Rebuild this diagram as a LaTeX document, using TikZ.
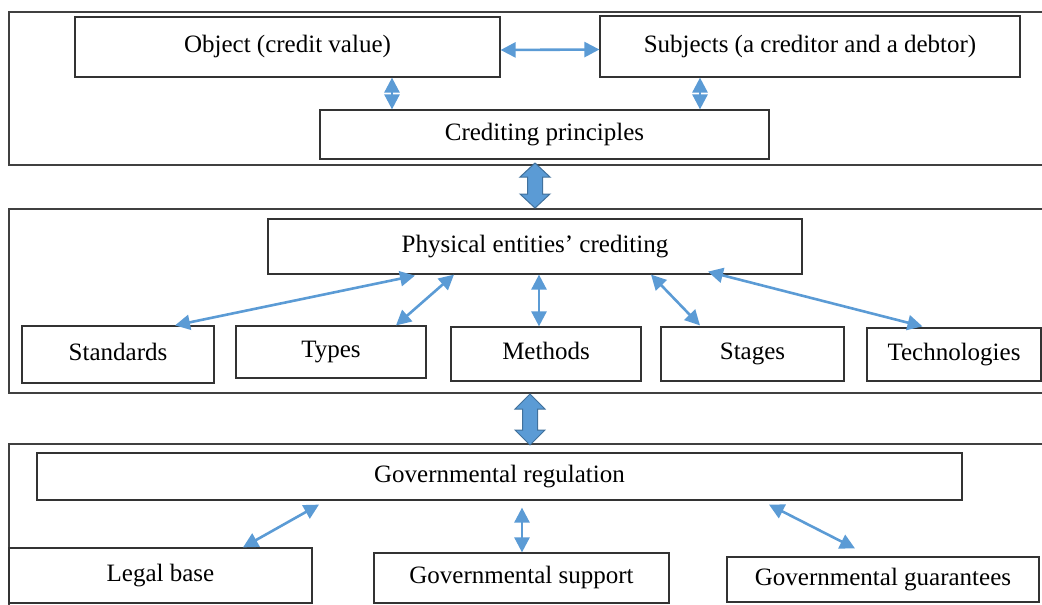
\documentclass[tikz,border=0pt]{standalone}
\usepackage{fontspec}
\setmainfont{Liberation Serif}
\usetikzlibrary{arrows.meta,calc}
\definecolor{arrblue}{HTML}{5B9BD5}
\definecolor{arredge}{HTML}{41719C}
\begin{document}
\begin{tikzpicture}[x=1pt,y=-1pt,
  box/.style={draw=black!80, line width=1.2pt, rectangle, inner sep=0pt, fill=white,
    font=\fontsize{25}{29}\selectfont, text height=17pt, text depth=5.5pt},
  frame/.style={draw=black!75, line width=1.2pt},
  link/.style={draw=arrblue, line width=2.6pt,
    {Triangle[length=15pt,width=15pt]}-{Triangle[length=15pt,width=15pt]}},
  blockarrow/.style={fill=arrblue, draw=arredge, line width=1pt, line join=miter}
]
\useasboundingbox (0,0) rectangle (1042,605);

% frames
\draw[frame] (1042,12) -- (9,12) -- (9,165) -- (1042,165);
\draw[frame] (1042,209) -- (9,209) -- (9,393) -- (1042,393);
\draw[frame] (1042,444) -- (9,444) -- (9,605);

% top level
\node[box, minimum width=425pt, minimum height=60pt] (obj) at (287.5,47) {Object (credit value)};
\node[box, minimum width=420pt, minimum height=61pt] (subj) at (810,46.5) {Subjects (a creditor and a debtor)};
\node[box, minimum width=449pt, minimum height=49pt] (princ) at (544.5,134.5) {Crediting principles};

% middle level
\node[box, minimum width=534pt, minimum height=55pt] (phys) at (535,246.5) {Physical entities’ crediting};
\node[box, minimum width=192pt, minimum height=57pt] (std) at (118,354.5) {Standards};
\node[box, minimum width=190pt, minimum height=52pt] (types) at (331,352) {Types};
\node[box, minimum width=190pt, minimum height=54pt] (meth) at (546,354) {Methods};
\node[box, minimum width=183pt, minimum height=54pt] (stag) at (752.5,354) {Stages};
\node[box, minimum width=174pt, minimum height=53pt] (tech) at (954,354.5) {Technologies};

% bottom level
\node[box, minimum width=925pt, minimum height=47pt] (reg) at (499.5,476.5) {Governmental regulation};
\node[box, minimum width=303pt, minimum height=55pt] (legal) at (160.5,575.5) {Legal base};
\node[box, minimum width=295pt, minimum height=50pt] (supp) at (521.5,578) {Governmental support};
\node[box, minimum width=312pt, minimum height=45pt] (guar) at (883,579.5) {Governmental guarantees};

% connectors top
\draw[link] ([yshift=-3pt]obj.east) -- ([yshift=-3pt]subj.west);
\draw[link] ([xshift=104.5pt]obj.south) -- ([xshift=-152.5pt]princ.north);
\draw[link] ([xshift=-110pt]subj.south) -- ([xshift=155.5pt]princ.north);

% connectors middle
\draw[link] ([xshift=57pt]std.north) -- ([xshift=-120pt,yshift=-1pt]phys.south);
\draw[link] ([xshift=65pt]types.north) -- ([xshift=-81pt]phys.south);
\draw[link] ([xshift=-7pt]meth.north) -- ([xshift=4pt]phys.south);
\draw[link] ([xshift=-52.5pt,yshift=1pt]stag.north) -- ([xshift=116pt]phys.south);
\draw[link] ([xshift=-31.5pt,yshift=1pt]tech.north) -- ([xshift=173pt,yshift=3pt]phys.south);

% connectors bottom
\draw[link] ([xshift=82.5pt]legal.north) -- ([xshift=-180.5pt,yshift=-4pt]reg.south);
\draw[link] ([xshift=0.5pt]supp.north) -- ([xshift=22.5pt,yshift=-7pt]reg.south);
\draw[link] ([xshift=-28pt,yshift=8pt]guar.north) -- ([xshift=269.5pt,yshift=-4pt]reg.south);

% block arrows between frames
\filldraw[blockarrow] (535,163) -- (550,177) -- (542.5,177) -- (542.5,194) -- (550,194)
  -- (535,208) -- (520,194) -- (527.5,194) -- (527.5,177) -- (520,177) -- cycle;
\filldraw[blockarrow] (530,394) -- (545,409) -- (537.5,409) -- (537.5,430) -- (545,430)
  -- (530,445) -- (515,430) -- (522.5,430) -- (522.5,409) -- (515,409) -- cycle;
\end{tikzpicture}
\end{document}
